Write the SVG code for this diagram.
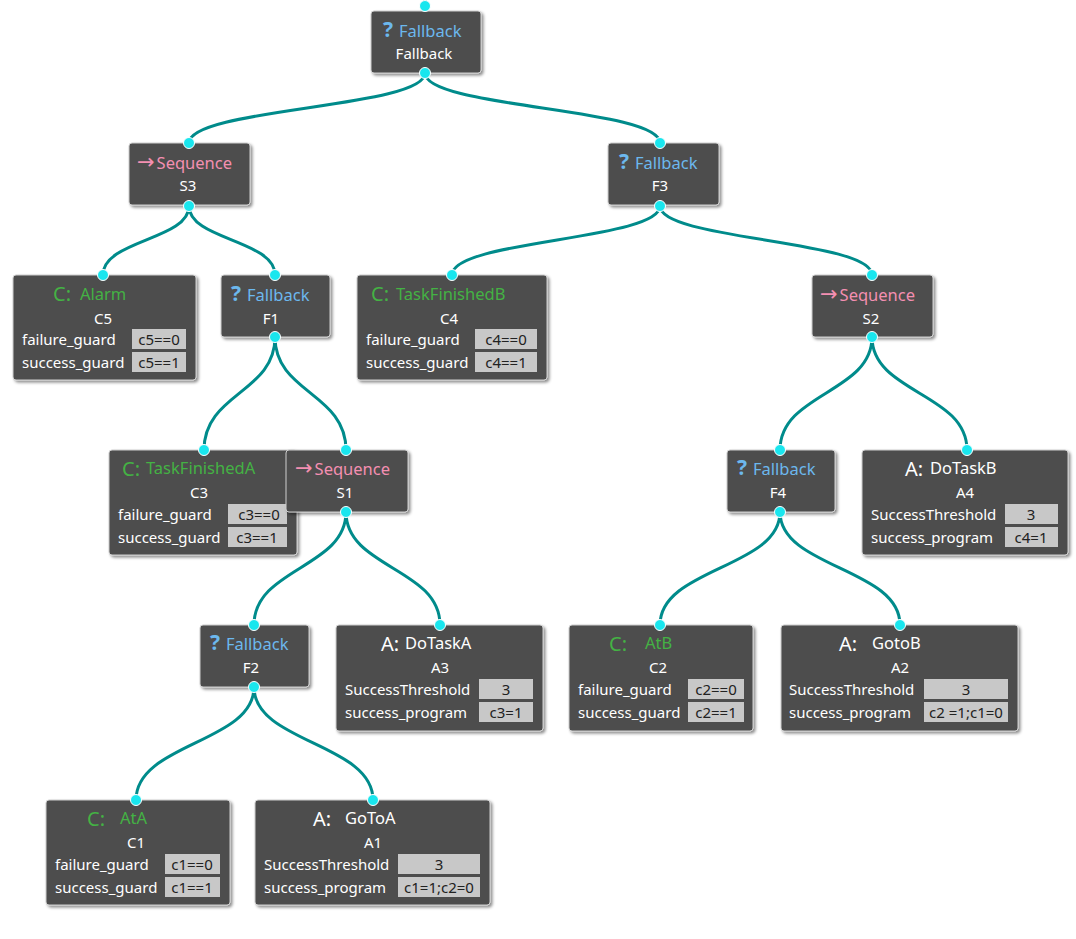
<svg xmlns="http://www.w3.org/2000/svg" width="1076" height="939" viewBox="0 0 1076 939">
<defs>
<filter id="sh" x="-10%" y="-10%" width="130%" height="130%"><feDropShadow dx="2" dy="2" stdDeviation="1.5" flood-color="#000" flood-opacity="0.45"/></filter>
</defs>
<style>
.box{fill:#4d4d4d;stroke:#cfcfcf;stroke-width:1;filter:url(#sh)}
.port{fill:#19e6ee;stroke:#ffffff;stroke-width:1}
.edge{fill:none;stroke:#008b8b;stroke-width:3}
text{font-family:"Noto Sans","Open Sans","DejaVu Sans",sans-serif;font-size:15px}
.w{fill:#ffffff}
.id{fill:#ffffff;text-anchor:middle}
.fb{fill:#6cb8ee;font-size:16.5px}
.sq{fill:#f48fb1;font-size:16.5px}
.cn{fill:#44b244;font-size:16.5px}
.ic{font-size:20px}
.icb{font-size:21px;font-weight:bold}
.arr{font-size:21px;font-family:"DejaVu Sans",sans-serif}
.val{fill:#c8c8c8}
.vt{fill:#222222;text-anchor:middle}
</style>
<rect width="1076" height="939" fill="#ffffff"/>
<g id="connectors">
<line class="edge" x1="425" y1="0" x2="425" y2="6"/>
<path class="edge" d="M425,73 C425,108 189,108 189,143"/>
<path class="edge" d="M425,73 C425,108 660,108 660,143"/>
<path class="edge" d="M189,206 C189,240 103,240 103,275"/>
<path class="edge" d="M189,206 C189,240 275,240 275,275"/>
<path class="edge" d="M660,206 C660,240 452,240 452,275"/>
<path class="edge" d="M660,206 C660,240 872,240 872,275"/>
<path class="edge" d="M275,337 C275,393 204,393 204,450"/>
<path class="edge" d="M275,337 C275,393 346,393 346,450"/>
<path class="edge" d="M872,337 C872,393 780,393 780,450"/>
<path class="edge" d="M872,337 C872,393 967,393 967,450"/>
<path class="edge" d="M346,512 C346,568 254,568 254,625"/>
<path class="edge" d="M346,512 C346,568 440,568 440,625"/>
<path class="edge" d="M780,512 C780,568 660,568 660,625"/>
<path class="edge" d="M780,512 C780,568 900,568 900,625"/>
<path class="edge" d="M254,687 C254,743 136,743 136,800"/>
<path class="edge" d="M254,687 C254,743 373,743 373,800"/>
</g>

<g id="root">
<rect class="box" x="371" y="11" width="110" height="62" rx="3"/>
<text x="383" y="37" class="fb"><tspan class="icb">?</tspan><tspan dx="6">Fallback</tspan></text>
<text x="424" y="59" class="id">Fallback</text>
<circle class="port" cx="425" cy="6" r="5.5"/>
<circle class="port" cx="425" cy="73" r="5.5"/>
</g>

<g id="S3">
<rect class="box" x="129" y="143" width="121" height="62" rx="3"/>
<text x="137" y="169" class="sq"><tspan class="arr">→</tspan><tspan dx="2">Sequence</tspan></text>
<text x="188" y="191" class="id">S3</text>
<circle class="port" cx="189" cy="143" r="5.5"/>
<circle class="port" cx="189" cy="206" r="5.5"/>
</g>

<g id="F3">
<rect class="box" x="608" y="143" width="111" height="62" rx="3"/>
<text x="619" y="169" class="fb"><tspan class="icb">?</tspan><tspan dx="6">Fallback</tspan></text>
<text x="660" y="191" class="id">F3</text>
<circle class="port" cx="660" cy="143" r="5.5"/>
<circle class="port" cx="660" cy="206" r="5.5"/>
</g>

<g id="C5">
<rect class="box" x="13" y="275" width="183" height="105" rx="3"/>
<text x="53" y="301" class="cn"><tspan class="ic">C:</tspan></text>
<text x="80" y="300" class="cn">Alarm</text>
<text x="103" y="324" class="id">C5</text>
<text x="22" y="345" class="w">failure_guard</text>
<rect class="val" x="132" y="329" width="54" height="20"/>
<text x="159" y="345" class="vt">c5==0</text>
<text x="22" y="368" class="w">success_guard</text>
<rect class="val" x="132" y="352" width="54" height="20"/>
<text x="159" y="368" class="vt">c5==1</text>
<circle class="port" cx="103" cy="275" r="5.5"/>
</g>

<g id="F1">
<rect class="box" x="221" y="275" width="109" height="62" rx="3"/>
<text x="231" y="301" class="fb"><tspan class="icb">?</tspan><tspan dx="6">Fallback</tspan></text>
<text x="271" y="324" class="id">F1</text>
<circle class="port" cx="275" cy="275" r="5.5"/>
<circle class="port" cx="275" cy="337" r="5.5"/>
</g>

<g id="C4">
<rect class="box" x="357" y="275" width="190" height="105" rx="3"/>
<text x="371" y="301" class="cn"><tspan class="ic">C:</tspan></text>
<text x="396" y="300" class="cn">TaskFinishedB</text>
<text x="449" y="324" class="id">C4</text>
<text x="366" y="345" class="w">failure_guard</text>
<rect class="val" x="475" y="329" width="62" height="20"/>
<text x="506" y="345" class="vt">c4==0</text>
<text x="366" y="368" class="w">success_guard</text>
<rect class="val" x="475" y="352" width="62" height="20"/>
<text x="506" y="368" class="vt">c4==1</text>
<circle class="port" cx="452" cy="275" r="5.5"/>
</g>

<g id="S2">
<rect class="box" x="812" y="275" width="121" height="62" rx="3"/>
<text x="820" y="301" class="sq"><tspan class="arr">→</tspan><tspan dx="2">Sequence</tspan></text>
<text x="871" y="324" class="id">S2</text>
<circle class="port" cx="872" cy="275" r="5.5"/>
<circle class="port" cx="872" cy="337" r="5.5"/>
</g>

<g id="C3">
<rect class="box" x="109" y="450" width="188" height="105" rx="3"/>
<text x="122" y="476" class="cn"><tspan class="ic">C:</tspan></text>
<text x="146" y="474" class="cn">TaskFinishedA</text>
<text x="199" y="498" class="id">C3</text>
<text x="118" y="520" class="w">failure_guard</text>
<rect class="val" x="228" y="504" width="59" height="20"/>
<text x="259" y="520" class="vt">c3==0</text>
<text x="118" y="543" class="w">success_guard</text>
<rect class="val" x="228" y="527" width="59" height="20"/>
<text x="257" y="543" class="vt">c3==1</text>
<circle class="port" cx="204" cy="450" r="5.5"/>
</g>

<g id="S1">
<rect class="box" x="286" y="450" width="122" height="62" rx="3"/>
<text x="295" y="475" class="sq"><tspan class="arr">→</tspan><tspan dx="2">Sequence</tspan></text>
<text x="345" y="498" class="id">S1</text>
<circle class="port" cx="346" cy="450" r="5.5"/>
<circle class="port" cx="346" cy="512" r="5.5"/>
</g>

<g id="F4">
<rect class="box" x="727" y="450" width="108" height="62" rx="3"/>
<text x="737" y="475" class="fb"><tspan class="icb">?</tspan><tspan dx="6">Fallback</tspan></text>
<text x="778" y="498" class="id">F4</text>
<circle class="port" cx="780" cy="450" r="5.5"/>
<circle class="port" cx="780" cy="512" r="5.5"/>
</g>

<g id="A4">
<rect class="box" x="862" y="450" width="206" height="105" rx="3"/>
<text x="905" y="476" class="w"><tspan class="ic">A:</tspan></text>
<text x="930" y="474" class="w" style="font-size:16.5px">DoTaskB</text>
<text x="965" y="498" class="id">A4</text>
<text x="871" y="520" class="w">SuccessThreshold</text>
<rect class="val" x="1005" y="504" width="53" height="20"/>
<text x="1031" y="520" class="vt">3</text>
<text x="871" y="543" class="w">success_program</text>
<rect class="val" x="1005" y="527" width="53" height="20"/>
<text x="1031" y="543" class="vt">c4=1</text>
<circle class="port" cx="967" cy="450" r="5.5"/>
</g>

<g id="F2">
<rect class="box" x="200" y="625" width="109" height="62" rx="3"/>
<text x="210" y="650" class="fb"><tspan class="icb">?</tspan><tspan dx="6">Fallback</tspan></text>
<text x="251" y="673" class="id">F2</text>
<circle class="port" cx="254" cy="625" r="5.5"/>
<circle class="port" cx="254" cy="687" r="5.5"/>
</g>

<g id="A3">
<rect class="box" x="336" y="625" width="207" height="106" rx="3"/>
<text x="381" y="651" class="w"><tspan class="ic">A:</tspan></text>
<text x="405" y="649" class="w" style="font-size:16.5px">DoTaskA</text>
<text x="440" y="673" class="id">A3</text>
<text x="345" y="695" class="w">SuccessThreshold</text>
<rect class="val" x="479" y="679" width="54" height="20"/>
<text x="506" y="695" class="vt">3</text>
<text x="345" y="718" class="w">success_program</text>
<rect class="val" x="479" y="702" width="54" height="20"/>
<text x="506" y="718" class="vt">c3=1</text>
<circle class="port" cx="440" cy="625" r="5.5"/>
</g>

<g id="C2">
<rect class="box" x="569" y="625" width="184" height="106" rx="3"/>
<text x="609" y="651" class="cn"><tspan class="ic">C:</tspan></text>
<text x="645" y="649" class="cn">AtB</text>
<text x="658" y="673" class="id">C2</text>
<text x="578" y="695" class="w">failure_guard</text>
<rect class="val" x="688" y="679" width="56" height="20"/>
<text x="716" y="695" class="vt">c2==0</text>
<text x="578" y="718" class="w">success_guard</text>
<rect class="val" x="688" y="702" width="56" height="20"/>
<text x="716" y="718" class="vt">c2==1</text>
<circle class="port" cx="660" cy="625" r="5.5"/>
</g>

<g id="A2">
<rect class="box" x="781" y="625" width="237" height="106" rx="3"/>
<text x="839" y="651" class="w"><tspan class="ic">A:</tspan></text>
<text x="872" y="649" class="w" style="font-size:16.5px">GotoB</text>
<text x="900" y="673" class="id">A2</text>
<text x="789" y="695" class="w">SuccessThreshold</text>
<rect class="val" x="924" y="679" width="84" height="20"/>
<text x="966" y="695" class="vt">3</text>
<text x="789" y="718" class="w">success_program</text>
<rect class="val" x="924" y="702" width="84" height="20"/>
<text x="966" y="718" class="vt">c2 =1;c1=0</text>
<circle class="port" cx="900" cy="625" r="5.5"/>
</g>

<g id="C1">
<rect class="box" x="46" y="800" width="184" height="105" rx="3"/>
<text x="87" y="826" class="cn"><tspan class="ic">C:</tspan></text>
<text x="120" y="824" class="cn">AtA</text>
<text x="136" y="848" class="id">C1</text>
<text x="55" y="870" class="w">failure_guard</text>
<rect class="val" x="165" y="854" width="55" height="20"/>
<text x="192" y="870" class="vt">c1==0</text>
<text x="55" y="893" class="w">success_guard</text>
<rect class="val" x="165" y="877" width="55" height="20"/>
<text x="192" y="893" class="vt">c1==1</text>
<circle class="port" cx="136" cy="800" r="5.5"/>
</g>

<g id="A1">
<rect class="box" x="255" y="800" width="235" height="105" rx="3"/>
<text x="313" y="826" class="w"><tspan class="ic">A:</tspan></text>
<text x="345" y="824" class="w" style="font-size:16.5px">GoToA</text>
<text x="373" y="848" class="id">A1</text>
<text x="264" y="870" class="w">SuccessThreshold</text>
<rect class="val" x="398" y="854" width="82" height="20"/>
<text x="439" y="870" class="vt">3</text>
<text x="264" y="893" class="w">success_program</text>
<rect class="val" x="398" y="877" width="82" height="20"/>
<text x="439" y="893" class="vt">c1=1;c2=0</text>
<circle class="port" cx="373" cy="800" r="5.5"/>
</g>
</svg>
